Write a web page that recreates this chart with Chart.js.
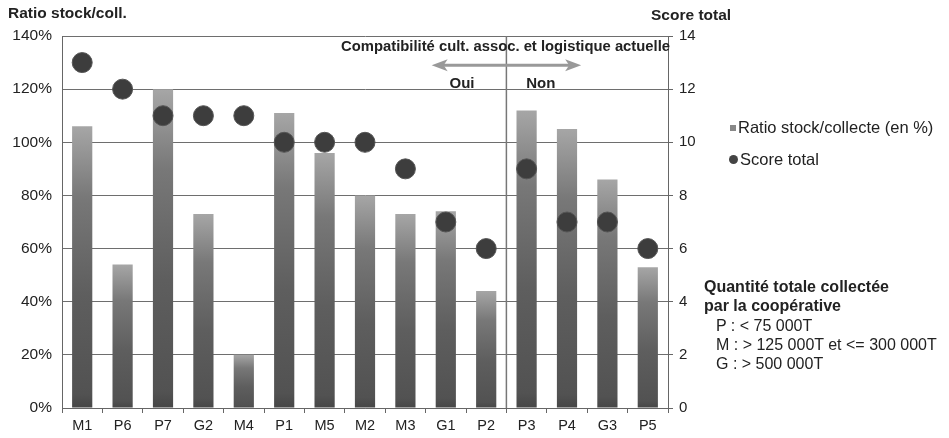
<!DOCTYPE html>
<html><head><meta charset="utf-8">
<script src="https://cdn.jsdelivr.net/npm/chart.js@4/dist/chart.umd.min.js"></script>
<style>
html,body{margin:0;padding:0;background:#fff;}
#wrap{position:relative;width:949px;height:438px;font-family:"Liberation Sans",Arial,sans-serif;color:#222;}
canvas{position:absolute;left:0;top:0;}
.t{position:absolute;white-space:nowrap;}
.b{font-weight:bold;}
</style></head>
<body><div id="wrap"><canvas id="c" width="949" height="438"></canvas>
<div class="t b" style="left:8px;top:4px;font-size:15.5px;">Ratio stock/coll.</div>
<div class="t b" style="left:651px;top:6px;font-size:15.5px;">Score total</div>
<div class="t" style="left:730px;top:118px;font-size:16.5px;"><span style="display:inline-block;width:6px;height:6px;background:#888;margin-right:2px;vertical-align:2px;"></span>Ratio stock/collecte (en %)</div>
<div class="t" style="left:729px;top:150px;font-size:16.5px;"><span style="display:inline-block;width:9px;height:9px;border-radius:50%;background:#444;margin-right:2px;vertical-align:1px;"></span>Score total</div>
<div class="t b" style="left:704px;top:277px;font-size:16px;line-height:19px;">Quantité totale collectée<br>par la coopérative</div>
<div class="t" style="left:716px;top:316px;font-size:16px;line-height:19px;">P : <&nbsp;75 000T<br>M : > 125 000T et <= 300 000T<br>G : > 500 000T</div>
</div>
<script>
const categories = ["M1","P6","P7","G2","M4","P1","M5","M2","M3","G1","P2","P3","P4","G3","P5"];
const ratioPct = [106,54,120,73,20,111,96,80,73,74,44,112,105,86,53];
const scoreTotal = [13,12,11,11,11,10,10,10,9,7,6,9,7,7,6];
const ratioTicks = [0,20,40,60,80,100,120,140];
const scoreTicks = [0,2,4,6,8,10,12,14];
const groupTitle = "Compatibilité cult. assoc. et logistique actuelle";
const groupYes = "Oui", groupNo = "Non";
const splitAfterIndex = 10; // separator between P2 and P3

function barGradient(ctx){
  const chart = ctx.chart;
  const y = chart.scales && chart.scales.y;
  if(!chart.chartArea || !y || ctx.dataIndex === undefined) return '#777';
  const v = ctx.raw;
  const top = y.getPixelForValue(v), base = y.getPixelForValue(0);
  const g = chart.ctx.createLinearGradient(0, base, 0, top);
  g.addColorStop(0, '#464646');
  g.addColorStop(0.05, '#525252');
  g.addColorStop(0.4, '#5e5e5e');
  g.addColorStop(0.75, '#787878');
  g.addColorStop(1, '#a6a6a6');
  return g;
}

const annot = {
  id:'annot',
  afterDatasetsDraw(chart){
    const {ctx, scales:{x,y}, chartArea} = chart;
    const sx = (x.getPixelForValue(splitAfterIndex) + x.getPixelForValue(splitAfterIndex+1))/2;
    ctx.save();
    ctx.strokeStyle = '#777'; ctx.lineWidth = 1.5;
    ctx.beginPath(); ctx.moveTo(sx, chartArea.top); ctx.lineTo(sx, chartArea.bottom); ctx.stroke();
    const step = x.getPixelForValue(1) - x.getPixelForValue(0);
    const ay = y.getPixelForValue(129);
    const ax1 = sx - step*1.85, ax2 = sx + step*1.85;
    ctx.strokeStyle = '#999'; ctx.fillStyle = '#999'; ctx.lineWidth = 3;
    ctx.beginPath(); ctx.moveTo(ax1+10, ay); ctx.lineTo(ax2-10, ay); ctx.stroke();
    ctx.beginPath(); ctx.moveTo(ax1, ay); ctx.lineTo(ax1+16, ay-6); ctx.lineTo(ax1+12, ay); ctx.lineTo(ax1+16, ay+6); ctx.closePath(); ctx.fill();
    ctx.beginPath(); ctx.moveTo(ax2, ay); ctx.lineTo(ax2-16, ay-6); ctx.lineTo(ax2-12, ay); ctx.lineTo(ax2-16, ay+6); ctx.closePath(); ctx.fill();
    ctx.fillStyle = '#222';
    ctx.font = 'bold 14.8px "Liberation Sans", Arial, sans-serif';
    ctx.textBaseline = 'middle';
    ctx.textAlign = 'right';
    ctx.fillText(groupTitle, chartArea.right + 2, y.getPixelForValue(136));
    ctx.font = 'bold 15px "Liberation Sans", Arial, sans-serif';
    ctx.textAlign = 'center';
    ctx.fillText(groupYes, sx - step*1.1, y.getPixelForValue(122));
    ctx.fillText(groupNo, sx + step*0.85, y.getPixelForValue(122));
    ctx.restore();
  }
};

new Chart(document.getElementById('c'), {
  data:{
    labels: categories,
    datasets:[
      {type:'line', label:'Score total', data: scoreTotal, yAxisID:'y2', showLine:false,
       pointRadius:10, pointHoverRadius:10, pointBackgroundColor:'#3d3d3d', pointBorderColor:'#555', pointBorderWidth:1, order:0},
      {type:'bar', label:'Ratio stock/collecte (en %)', data: ratioPct, yAxisID:'y',
       backgroundColor: barGradient, barPercentage:0.5, categoryPercentage:1.0, order:1}
    ]
  },
  plugins:[annot],
  options:{
    responsive:false, animation:false,
    layout:{padding:{left:0,right:241,top:36,bottom:0}},
    plugins:{legend:{display:false}, tooltip:{enabled:false}},
    scales:{
      x:{
        grid:{display:true, drawOnChartArea:false, drawTicks:true, tickLength:5, color:'#666', offset:true},
        border:{display:true,color:'#666'},
        ticks:{color:'#222', font:{family:'"Liberation Sans", Arial, sans-serif', size:14.5}, padding:4, maxRotation:0, autoSkip:false},
        afterFit(s){ s.height = 30; }
      },
      y:{
        position:'left', min:0, max:140,
        afterBuildTicks(s){ s.ticks = ratioTicks.map(v=>({value:v})); },
        grid:{color:'#6e6e6e', drawTicks:false, lineWidth:1},
        border:{display:true,color:'#666'},
        ticks:{color:'#222', padding:10, font:{family:'"Liberation Sans", Arial, sans-serif', size:15.5}, callback:v=>v+'%'},
        afterFit(s){ s.width = 62; }
      },
      y2:{
        position:'right', min:0, max:14,
        afterBuildTicks(s){ s.ticks = scoreTicks.map(v=>({value:v})); },
        grid:{drawOnChartArea:false, drawTicks:true, tickLength:5, color:'#666'},
        border:{display:true,color:'#666'},
        ticks:{color:'#222', padding:6, font:{family:'"Liberation Sans", Arial, sans-serif', size:15}},
        afterFit(s){ s.width = 40; }
      }
    }
  }
});
</script></body></html>
